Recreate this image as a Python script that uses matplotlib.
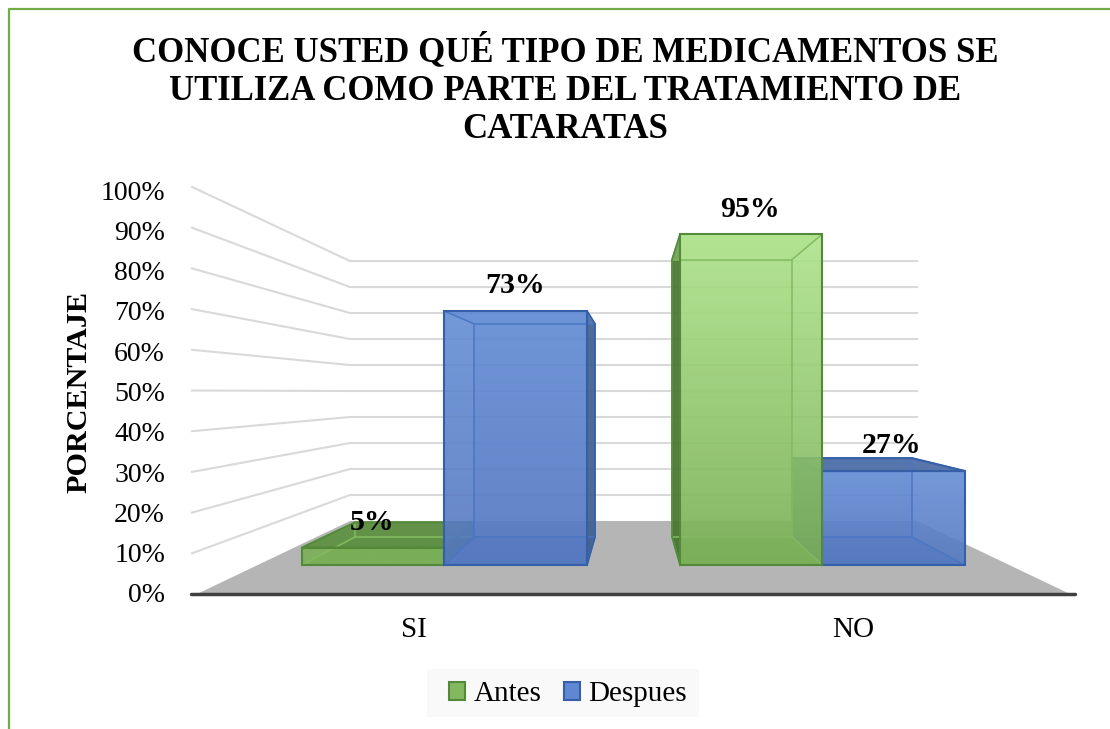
#!/usr/bin/env python3
"""Faux 3D clustered bars: medication knowledge before / after (cataracts)."""
import matplotlib
matplotlib.use("Agg")
import matplotlib.pyplot as plt
from matplotlib.colors import LinearSegmentedColormap
from matplotlib.lines import Line2D
from matplotlib.patches import Patch, Polygon, Rectangle
import numpy as np

plt.rcParams["font.family"] = ["Liberation Serif", "DejaVu Serif"]

categories = ["SI", "NO"]
antes = [5, 95]
despues = [73, 27]
y_ticks = [0, 10, 20, 30, 40, 50, 60, 70, 80, 90, 100]
title = ("CONOCE USTED QUÉ TIPO DE MEDICAMENTOS SE\n"
         "UTILIZA COMO PARTE DEL TRATAMIENTO DE\n"
         "CATARATAS")

W, H = 1110, 729
GREEN_EDGE, GREEN_INNER = "#54893a", "#82bb60"
BLUE_EDGE, BLUE_INNER = "#3560a8", "#4a76c4"


# the value axis runs along the label column, other planes are scaled from it
def front_y(v):
    return 6.95 + 0.8635 * v


def back_y(v):
    return 13.9 + 0.7246 * v


def wall_y(v):
    return 17.87 + 0.645 * v


def left_y(v):
    return -0.25 + 1.01 * v


def gradient_face(ax, pts, top, bottom, z, alpha=0.88):
    # vertical gradient, clipped to the face
    poly = Polygon(pts, closed=True, facecolor="none", edgecolor="none",
                   transform=ax.transData)
    ax.add_patch(poly)
    cmap = LinearSegmentedColormap.from_list("f", [bottom, top])
    grad = np.linspace(1, 0, 256).reshape(-1, 1)
    xs = [p[0] for p in pts]
    ys = [p[1] for p in pts]
    im = ax.imshow(grad, cmap=cmap, vmin=0, vmax=1, aspect="auto", alpha=alpha,
                   extent=(min(xs), max(xs), min(ys), max(ys)), zorder=z)
    im.set_clip_path(poly)


def flat_face(ax, pts, color, z, alpha=1.0):
    ax.add_patch(Polygon(pts, closed=True, facecolor=color, edgecolor="none",
                         alpha=alpha, zorder=z, clip_on=False))


def outline(ax, pts, color, z, lw=1.5):
    ax.add_patch(Polygon(pts, closed=True, facecolor="none", edgecolor=color,
                         linewidth=lw, joinstyle="miter", zorder=z, clip_on=False))


def draw_bar(ax, value, fx, bx, palette, z):
    # fx front x-range, bx back x-range
    fl, fr = fx
    bl, br = bx
    f0, f1 = front_y(0), front_y(value)
    b0, b1 = back_y(0), back_y(value)
    lo, hi, top_c, side_c, floor_c, edge, inner = palette
    low_bar = value < 50
    if value < 20:
        hi = lo  # too short to show the gradient
    top_face = [(fl, f1), (fr, f1), (br, b1), (bl, b1)]

    flat_face(ax, [(fl, f0), (fr, f0), (br, b0), (bl, b0)], floor_c, z, 0.6)
    gradient_face(ax, [(bl, b0), (br, b0), (br, b1), (bl, b1)], hi, lo, z + 0.1, 0.25)
    # side walls: the ones outside the front rectangle are the dark ones
    if bl < fl:
        flat_face(ax, [(fl, f0), (bl, b0), (bl, b1), (fl, f1)], side_c, z + 0.2, 0.92)
    if br > fr:
        flat_face(ax, [(fr, f0), (br, b0), (br, b1), (fr, f1)], side_c, z + 0.2, 0.92)
    if low_bar:
        flat_face(ax, top_face, top_c, z + 0.3, 0.95)
    else:
        flat_face(ax, top_face, hi, z + 0.3, 0.4)
    gradient_face(ax, [(fl, f0), (fr, f0), (fr, f1), (fl, f1)], hi, lo, z + 0.4, 0.9)

    outline(ax, [(bl, b0), (br, b0), (br, b1), (bl, b1)], inner, z + 0.5, 1.1)
    for (xa, ya), (xb, yb) in [((fl, f1), (bl, b1)), ((fr, f1), (br, b1)),
                               ((fl, f0), (bl, b0)), ((fr, f0), (br, b0))]:
        ax.plot([xa, xb], [ya, yb], color=inner, lw=1.1, zorder=z + 0.5, clip_on=False)
    # outer silhouette edges
    outline(ax, [(fl, f0), (fr, f0), (fr, f1), (fl, f1)], edge, z + 0.6)
    if low_bar:
        outline(ax, top_face, edge, z + 0.6)
    if bl < fl:
        ax.plot([fl, bl, bl, fl], [f1, b1, b0, f0], color=edge, lw=1.2, zorder=z + 0.6,
                clip_on=False)
    if br > fr:
        ax.plot([fr, br, br, fr], [f1, b1, b0, f0], color=edge, lw=1.2, zorder=z + 0.6,
                clip_on=False)


fig = plt.figure(figsize=(W / 100, H / 100), dpi=100, facecolor="white")
ax = fig.add_axes([190 / W, (H - 593) / H, (1076 - 190) / W, 403 / H])
ax.set_xlim(190, 1076)
ax.set_ylim(0, 100)
ax.patch.set_visible(False)
for s in ax.spines.values():
    s.set_visible(False)

# walls
for t in y_ticks[1:]:
    ax.plot([192, 350, 917], [left_y(t), wall_y(t), wall_y(t)], color="#d9d9d9",
            lw=1.5, zorder=1, clip_on=False)
# floor
flat_face(ax, [(197, left_y(0)), (1070, left_y(0)), (917, wall_y(0)), (350, wall_y(0))],
          "#b5b5b5", 2)
ax.plot([191, 1075], [left_y(0), left_y(0)], color="#404040", lw=2.5, zorder=3,
        clip_on=False, solid_capstyle="round")

green_pal = ("#7ab056", "#aee38b", "#5f9043", "#4a7532", "#5f8f42", GREEN_EDGE, GREEN_INNER)
blue_pal = ("#5578c1", "#648dd5", "#4f6fa8", "#41618f", "#4568ad", BLUE_EDGE, BLUE_INNER)

# (front x-range, back x-range) for each bar, drawn in the original's stacking order
draw_bar(ax, antes[0], (302, 444), (355, 474), green_pal, 4)
draw_bar(ax, despues[0], (444, 587), (474, 595), blue_pal, 5)
draw_bar(ax, despues[1], (822, 965), (792, 912), blue_pal, 6)
draw_bar(ax, antes[1], (680, 822), (672, 792), green_pal, 7)
ax.set_xlim(190, 1076)
ax.set_ylim(0, 100)

# data labels
label_x = [(372, 750), (515, 892)]
for series, xs in zip((antes, despues), label_x):
    for v, x in zip(series, xs):
        ax.annotate(f"{v}%", xy=(x, front_y(v)), xytext=(0, 8.5),
                    textcoords="offset points", ha="center", va="bottom",
                    fontsize=21.5, fontweight="bold", color="black", zorder=20)

ax.set_yticks(y_ticks)
ax.set_yticklabels([f"{t}%" for t in y_ticks], fontsize=20)
ax.set_xticks([414, 853])
ax.set_xticklabels(categories, fontsize=21)
ax.tick_params(axis="y", length=0, pad=18)
ax.tick_params(axis="x", length=0, pad=17)
ax.set_ylabel("PORCENTAJE", fontsize=21.7, fontweight="bold", va="center")
ax.yaxis.set_label_coords((79 - 190) / (1076 - 190), 0.5)

fig.text(565 / W, 1 - 90 / H, title, ha="center", va="center", fontsize=25,
         fontweight="bold", linespacing=1.22)

# legend: the grey panel is wider on the left than the entries need
fig.add_artist(Rectangle((427 / W, 1 - 717 / H), 272 / W, 48 / H, facecolor="#f9f9f9",
                         edgecolor="none", transform=fig.transFigure))
handles = [Patch(facecolor="#82b85f", edgecolor=GREEN_EDGE, linewidth=1.5, label="Antes"),
           Patch(facecolor="#5f87d2", edgecolor=BLUE_EDGE, linewidth=1.5, label="Despues")]
fig.legend(handles=handles, loc="center", bbox_to_anchor=(568 / W, 1 - 694 / H), ncols=2,
           fontsize=21, frameon=False, handlelength=0.56, handleheight=0.56,
           handletextpad=0.27, columnspacing=0.78, borderpad=0.2)

# chart border (green, cut by the image edge)
fig.add_artist(Line2D([8.5 / W, 8.5 / W, 1], [0, 1 - 8.5 / H, 1 - 8.5 / H],
                      color="#70ad47", lw=1.6))

fig.savefig("out.png", dpi=100)
plt.close(fig)
